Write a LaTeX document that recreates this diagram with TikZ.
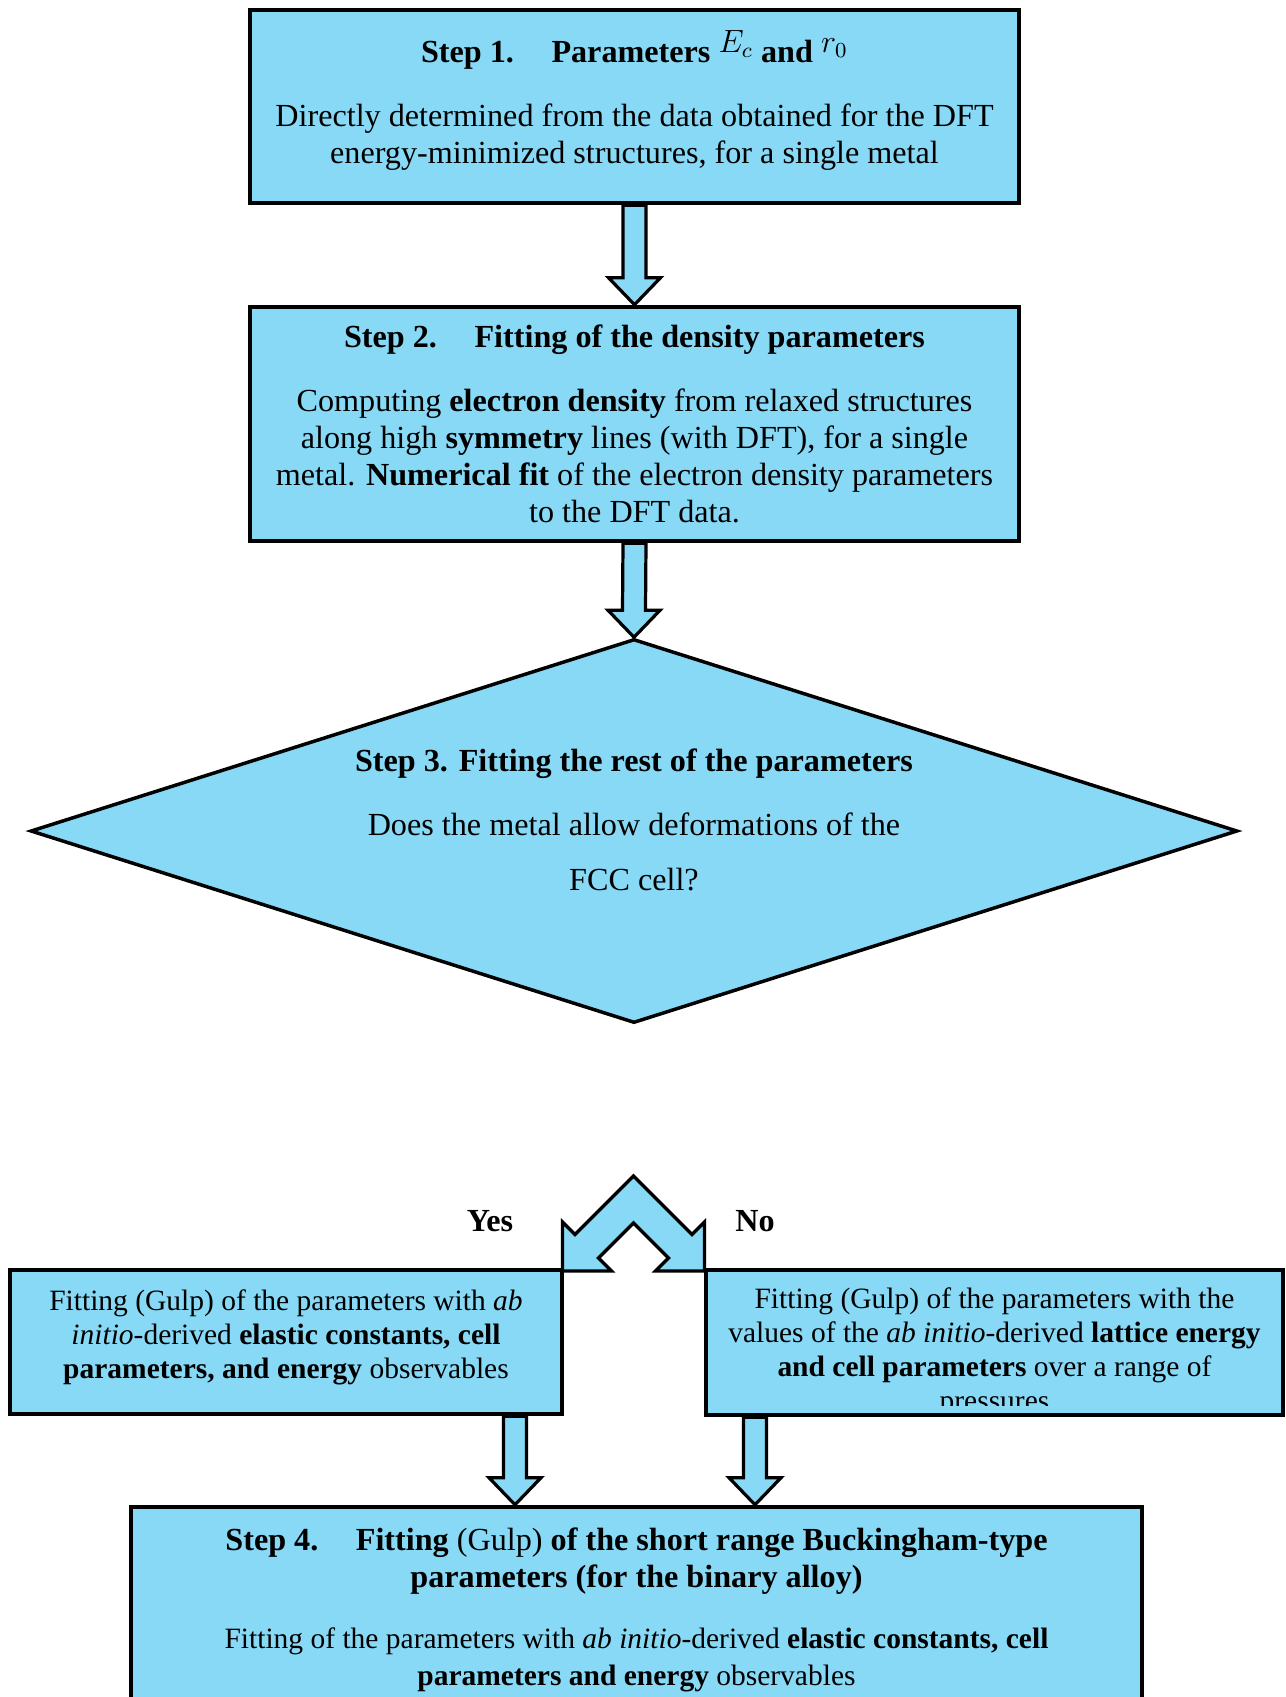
\documentclass[tikz,border=0pt]{standalone}
\usepackage{fontspec}
\setmainfont{Liberation Serif}
\usetikzlibrary{shapes.geometric,calc}

\newcommand{\pxu}{0.373pt}
\definecolor{stepblue}{RGB}{135,217,246}

\tikzstyle{stage box}=[draw,line width=1.7pt,fill=stepblue,inner sep=0pt,align=center,font=\fontsize{12}{13.8}\selectfont]
\tikzstyle{decision}=[diamond,draw,line width=1.3pt,fill=stepblue,inner sep=0pt]
\tikzstyle{stage text}=[align=center,inner sep=0pt,font=\fontsize{12}{13.8}\selectfont]
\tikzstyle{branch text}=[align=center,inner sep=0pt,font=\fontsize{11}{12.7}\selectfont]
\tikzstyle{answer}=[inner sep=0pt,font=\bfseries\fontsize{12}{13.8}\selectfont]
\tikzstyle{block arrow}=[draw,line width=1.2pt,fill=stepblue,line join=miter]

% hollow block arrow pointing down, from #1 to the tip #2
\newcommand{\blockdown}[2]{%
  \path[block arrow] ($(#1)+(-11.5,0)$) -- ($(#2)+(-11.5,-27)$) -- ($(#2)+(-26,-27)$) -- (#2)
    -- ($(#2)+(26,-27)$) -- ($(#2)+(11.5,-27)$) -- ($(#1)+(11.5,0)$) -- cycle;}
% raised symbol next to a title
\newcommand{\upsym}[1]{\raisebox{3.5pt}[0pt][0pt]{\large$#1$}}

\begin{document}
\begin{tikzpicture}[x=0.373pt,y=-0.373pt]
    \useasboundingbox (0,0) rectangle (1285,1697);
    \clip (0,0) rectangle (1285,1697);
    % Draw the steps
    \node[stage box, minimum width=769*\pxu, minimum height=193*\pxu] (stepone) at (634.5,106.5) {};
    \node[stage text] (steponetext) at (634.5,105)
      {\textbf{Step 1.}\hspace{14pt}\textbf{Parameters }\upsym{E_c}\textbf{ and }\upsym{r_0}\\[10pt]
       Directly determined from the data obtained for the DFT\\
       energy-minimized structures, for a single metal};
    \node[stage box, minimum width=769*\pxu, minimum height=234*\pxu] (steptwo) at (634.5,424)
      {\textbf{Step 2.}\hspace{14pt}\textbf{Fitting of the density parameters}\\[10pt]
       Computing \textbf{electron density} from relaxed structures\\
       along high \textbf{symmetry} lines (with DFT), for a single\\
       metal. \textbf{Numerical fit} of the electron density parameters\\
       to the DFT data.};
    \node[decision, minimum width=1207*\pxu, minimum height=384*\pxu] (stepthree) at (634,831) {};
    \node[stage text] (stepthreetext) at (634,820)
      {\textbf{Step 3. Fitting the rest of the parameters}\\[10pt]
       Does the metal allow deformations of the\\[7pt]
       FCC cell?};
    % Second the two branches
    \node[stage box, minimum width=552*\pxu, minimum height=144*\pxu] (yesbox) at (286,1342) {};
    \node[branch text] (yestext) at (286,1337)
      {Fitting (Gulp) of the parameters with \textit{ab}\\
       \textit{initio}-derived \textbf{elastic constants, cell}\\
       \textbf{parameters, and energy} observables};
    \node[stage box, minimum width=577*\pxu, minimum height=145*\pxu] (nobox) at (994.5,1342.5) {};
    \begin{scope}
      \clip ($(nobox.south west)+(4,-12)$) rectangle ($(nobox.north east)+(-4,4)$);
      \node[branch text] (notext) at (994.5,1352)
        {Fitting (Gulp) of the parameters with the\\
         values of the \textit{ab initio}-derived \textbf{lattice energy}\\
         \textbf{and cell parameters} over a range of\\
         pressures};
    \end{scope}
    \node[answer] (yes) at (490,1221) {Yes};
    \node[answer] (no) at (755,1221) {No};
    \node[stage box, minimum width=1011*\pxu, minimum height=233*\pxu] (stepfour) at (636.5,1623.5) {};
    \node[stage text] (stepfourtext) at (636.5,1610)
      {\textbf{Step 4.}\hspace{14pt}\textbf{Fitting} (Gulp) \textbf{of the short range Buckingham-type}\\
       \textbf{parameters (for the binary alloy)}\\[9pt]
       {\fontsize{11}{12.7}\selectfont Fitting of the parameters with \textit{ab initio}-derived \textbf{elastic constants, cell}}\\
       {\fontsize{11}{12.7}\selectfont\textbf{parameters and energy} observables}};
    % Connect the steps with block arrows
    \foreach \src/\dst in {stepone.south/steptwo.north, steptwo.south/stepthree.north}
      \blockdown{\src}{\dst};
    \coordinate (fork) at (633.5,1176);
    \draw[block arrow, shift={(fork)}] (0,0) -- (58.5,58.5) -- (71,46) -- (71,95) -- (22,95) -- (35,82)
      -- (0,47) -- (-35,82) -- (-22,95) -- (-71,95) -- (-71,46) -- (-58.5,58.5) -- cycle;
    \coordinate (yestip) at ($(stepfour.north)+(-121.5,0)$);
    \coordinate (notip) at ($(stepfour.north)+(118.5,0)$);
    \blockdown{yesbox.south -| yestip}{yestip};
    \blockdown{nobox.south -| notip}{notip};
\end{tikzpicture}
\end{document}
